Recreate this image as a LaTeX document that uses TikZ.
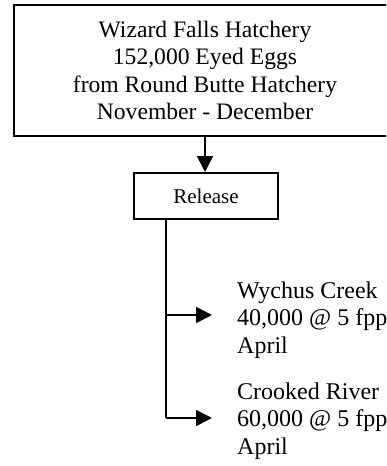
\documentclass[tikz,border=0pt]{standalone}
\usepackage{fontspec}
\setmainfont{Liberation Serif}
\usetikzlibrary{arrows.meta}
\begin{document}
\begin{tikzpicture}[x=1pt,y=-1pt,
  boxstyle/.style={draw, line width=2pt, align=center, inner sep=0pt},
  conn/.style={line width=1.7pt, -{Triangle[length=16pt,width=16pt]}},
  plain/.style={line width=1.7pt},
  lbl/.style={align=left, anchor=west, inner sep=0pt,
    font=\fontsize{24}{27.5}\selectfont}]
\useasboundingbox (0,0) rectangle (386,466);
\clip (0,0) rectangle (386,466);
\node[boxstyle, minimum width=382pt, minimum height=131pt,
  font=\fontsize{23.6}{27.5}\selectfont] (hatch) at (205,70.5)
  {Wizard Falls Hatchery\\152,000 Eyed Eggs\\from Round Butte Hatchery\\November - December};
\node[boxstyle, minimum width=144pt, minimum height=46pt,
  font=\fontsize{21}{25}\selectfont] (rel) at (206,196) {Release};
\draw[conn] (hatch.south -| 205,0) -- (rel.north -| 205,0);
\coordinate (top) at (166,219);
\coordinate (j1) at (166,315);
\coordinate (j2) at (166,418);
\node[lbl] (wy) at (237,320) {Wychus Creek\\40,000 @ 5 fpp\\April};
\node[lbl] (cr) at (237,421) {Crooked River\\60,000 @ 5 fpp\\April};
\draw[plain] (top) -- (j2);
\draw[conn] (j1) -- (212,315);
\draw[conn] (j2) -- (212,418);
\end{tikzpicture}
\end{document}
